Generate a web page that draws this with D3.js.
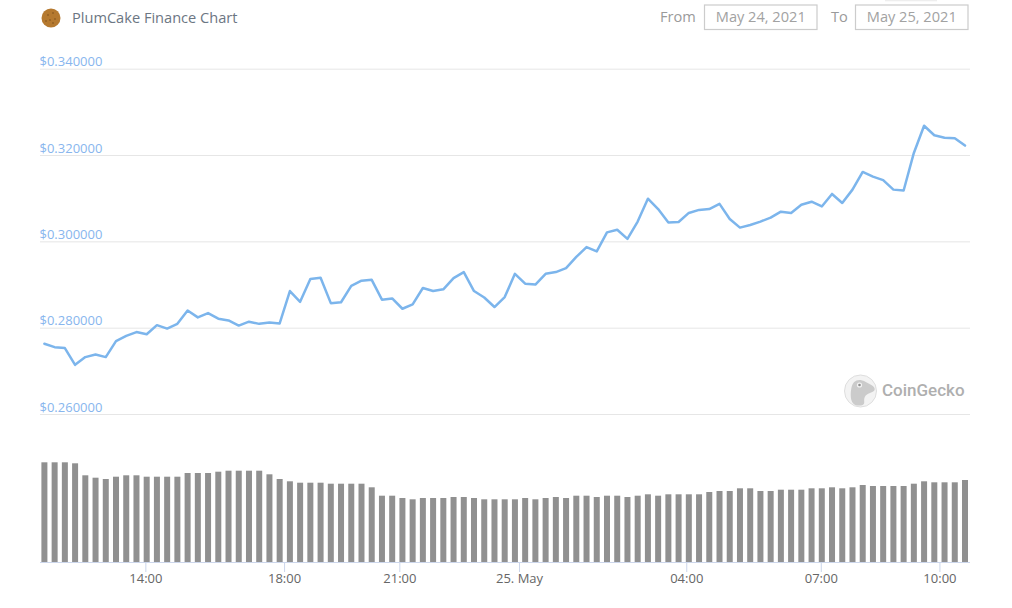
<!DOCTYPE html>
<html>
<head>
<meta charset="utf-8">
<title>PlumCake Finance Chart</title>
<script src="https://cdn.jsdelivr.net/npm/d3@7"></script>
<style>
  html, body { margin: 0; padding: 0; background: #fff; }
  svg { display: block; font-family: "Open Sans", "Noto Sans", sans-serif; }
</style>
</head>
<body>
<svg id="chart"></svg>
<script>
// values, one per point (points are evenly spaced, ordinal axis)
const prices = [
  0.2764, 0.2756, 0.2754, 0.2715, 0.2733, 0.2739, 0.2733, 0.2770, 0.2782, 0.2791,
  0.2786, 0.2807, 0.2799, 0.2810, 0.2841, 0.2825, 0.2835, 0.2822, 0.2818, 0.2806,
  0.2815, 0.2810, 0.2813, 0.2811, 0.2886, 0.2861, 0.2914, 0.2917, 0.2858, 0.2860,
  0.2898, 0.2910, 0.2912, 0.2866, 0.2869, 0.2845, 0.2855, 0.2893, 0.2886, 0.2890,
  0.2916, 0.2930, 0.2886, 0.2871, 0.2849, 0.2872, 0.2926, 0.2903, 0.2901, 0.2926,
  0.2930, 0.2939, 0.2965, 0.2988, 0.2978, 0.3022, 0.3028, 0.3007, 0.3047, 0.3100,
  0.3076, 0.3045, 0.3046, 0.3067, 0.3074, 0.3076, 0.3088, 0.3053, 0.3033, 0.3039,
  0.3047, 0.3056, 0.3070, 0.3067, 0.3086, 0.3093, 0.3082, 0.3111, 0.3090, 0.3121,
  0.3162, 0.3151, 0.3143, 0.3121, 0.3119, 0.3206, 0.3269, 0.3247, 0.3241, 0.3240,
  0.3223
];

// relative volume, tallest bar about 100
const volumes = [
  99.7, 99.7, 99.7, 98.7, 86.7, 84.3, 83, 85.3, 86.7, 86.7,
  85.3, 85.3, 85.3, 85.3, 89, 89, 89, 90.3, 91.3, 91.3,
  91.3, 91.3, 87.7, 83, 80.7, 79.3, 79.3, 79.3, 78.3, 78.3,
  78.3, 78.3, 74.7, 66.3, 66.3, 64, 62.7, 64, 64, 64,
  65, 65, 64, 62.7, 62.7, 62.7, 62.7, 64, 62.7, 64,
  65, 64, 66.3, 66.3, 65, 66.3, 66.3, 65, 66.3, 67.7,
  66.3, 67.7, 67.7, 67.7, 67.7, 70, 71, 71, 73.7, 73.7,
  71, 71, 72.3, 72.3, 72.3, 73.7, 73.7, 74.7, 73.7, 74.7,
  77, 76, 76, 76, 76, 78.3, 80.7, 79.7, 79.7, 79.7,
  82
];

const priceTicks = [0.26, 0.28, 0.30, 0.32, 0.34];

// time labels sit between points, so they carry a fractional point position
const timeTickLabels = ["14:00", "18:00", "21:00", "25. May", "04:00", "07:00", "10:00"];
const timeTickPos = [9.87, 23.43, 34.7, 46.4, 62.75, 75.9, 87.5];

const width = 1012, height = 608;
const left = 40, right = 970;

const svg = d3.select("#chart").attr("width", width).attr("height", height);

const x = d3.scaleLinear().domain([0, prices.length - 1]).range([44.4, 965]);
const y = d3.scaleLinear().domain([0.26, 0.34]).range([414.5, 69.2]);
const yVol = d3.scaleLinear().domain([0, 100]).range([562, 462]);

// header
const cookie = svg.append("g").attr("transform", "translate(51,18)");
cookie.append("circle").attr("r", 9.5).attr("fill", "#b5792f");
[[-3, -3], [2, -5], [4, 1], [-1, 2], [-5, 3], [2, 5]].forEach(p => {
  cookie.append("circle").attr("cx", p[0]).attr("cy", p[1]).attr("r", 0.8).attr("fill", "#7d4f1a");
});

svg.append("text")
  .attr("x", 72).attr("y", 23)
  .attr("font-size", 14.6)
  .attr("fill", "#6c7683")
  .text("PlumCake Finance Chart");

svg.append("rect")
  .attr("x", 885).attr("y", 0).attr("width", 52).attr("height", 1.3)
  .attr("fill", "#eeeeee");

function dateBox(labelText, labelX, boxX, value) {
  svg.append("text")
    .attr("x", labelX).attr("y", 22)
    .attr("font-size", 14.6)
    .attr("fill", "#9a9a9a")
    .text(labelText);
  svg.append("rect")
    .attr("x", boxX).attr("y", 5)
    .attr("width", 112.5).attr("height", 24.5)
    .attr("fill", "#fff")
    .attr("stroke", "#cccccc")
    .attr("stroke-width", 1.2);
  svg.append("text")
    .attr("x", boxX + 56.25).attr("y", 22)
    .attr("text-anchor", "middle")
    .attr("font-size", 14.6)
    .attr("fill", "#a2a2a2")
    .text(value);
}
dateBox("From", 660, 704.5, "May 24, 2021");
dateBox("To", 831, 855.5, "May 25, 2021");

// grid lines and price labels
const grid = svg.append("g");
grid.selectAll("line").data(priceTicks).join("line")
  .attr("x1", left).attr("x2", right)
  .attr("y1", d => y(d))
  .attr("y2", d => y(d))
  .attr("stroke", "#e6e6e6");
grid.selectAll("text").data(priceTicks).join("text")
  .attr("x", 39.5)
  .attr("y", d => y(d) - 3)
  .attr("font-size", 13)
  .attr("fill", "#88b6ee")
  .text(d => "$" + d.toFixed(6));

// watermark
const logo = svg.append("g").attr("transform", "translate(860.5,391)");
logo.append("circle").attr("r", 16).attr("fill", "#f3f3f3").attr("stroke", "#dedede").attr("stroke-width", 1);
logo.append("path")
  .attr("d", d3.line().curve(d3.curveBasisClosed)([[-10, 15], [-10, -2], [-7, -10], [0, -12], [7, -8], [15, -4], [14, 1], [5, 3], [3, 9], [5, 15]]))
  .attr("fill", "#cbcbcb");
logo.append("circle").attr("cx", -1).attr("cy", -6).attr("r", 2.6).attr("fill", "#f3f3f3");
logo.append("circle").attr("cx", -1).attr("cy", -6).attr("r", 1.3).attr("fill", "#909090");
svg.append("text")
  .attr("x", 882).attr("y", 396)
  .attr("font-family", "Roboto, sans-serif")
  .attr("font-size", 17)
  .attr("font-weight", 500)
  .attr("fill", "#afafaf")
  .text("CoinGecko");

// volume bars
svg.append("g").selectAll("rect").data(volumes).join("rect")
  .attr("x", (d, i) => x(i) - 3)
  .attr("y", d => yVol(d))
  .attr("width", 6)
  .attr("height", d => yVol(0) - yVol(d))
  .attr("fill", "#909090");

// x axis
const axis = d3.axisBottom(x)
  .tickValues(timeTickPos)
  .tickFormat((d, i) => timeTickLabels[i])
  .tickSize(10)
  .tickPadding(2);
const axisG = svg.append("g")
  .attr("transform", "translate(0,562)")
  .call(axis);
axisG.select(".domain").remove();
axisG.append("line")
  .attr("x1", left).attr("x2", right)
  .attr("y1", 0.5).attr("y2", 0.5)
  .attr("stroke", "#ccd6eb");
axisG.selectAll(".tick line").attr("stroke", "#ccd6eb");
axisG.selectAll(".tick text")
  .attr("font-family", "\"Open Sans\", sans-serif")
  .attr("font-size", 13)
  .attr("fill", "#666666");

// price line
const line = d3.line()
  .x((d, i) => x(i))
  .y(d => y(d));
svg.append("path")
  .datum(prices)
  .attr("d", line)
  .attr("fill", "none")
  .attr("stroke", "#7cb5ec")
  .attr("stroke-width", 2.5)
  .attr("stroke-linejoin", "round")
  .attr("stroke-linecap", "round");
</script>
</body>
</html>
